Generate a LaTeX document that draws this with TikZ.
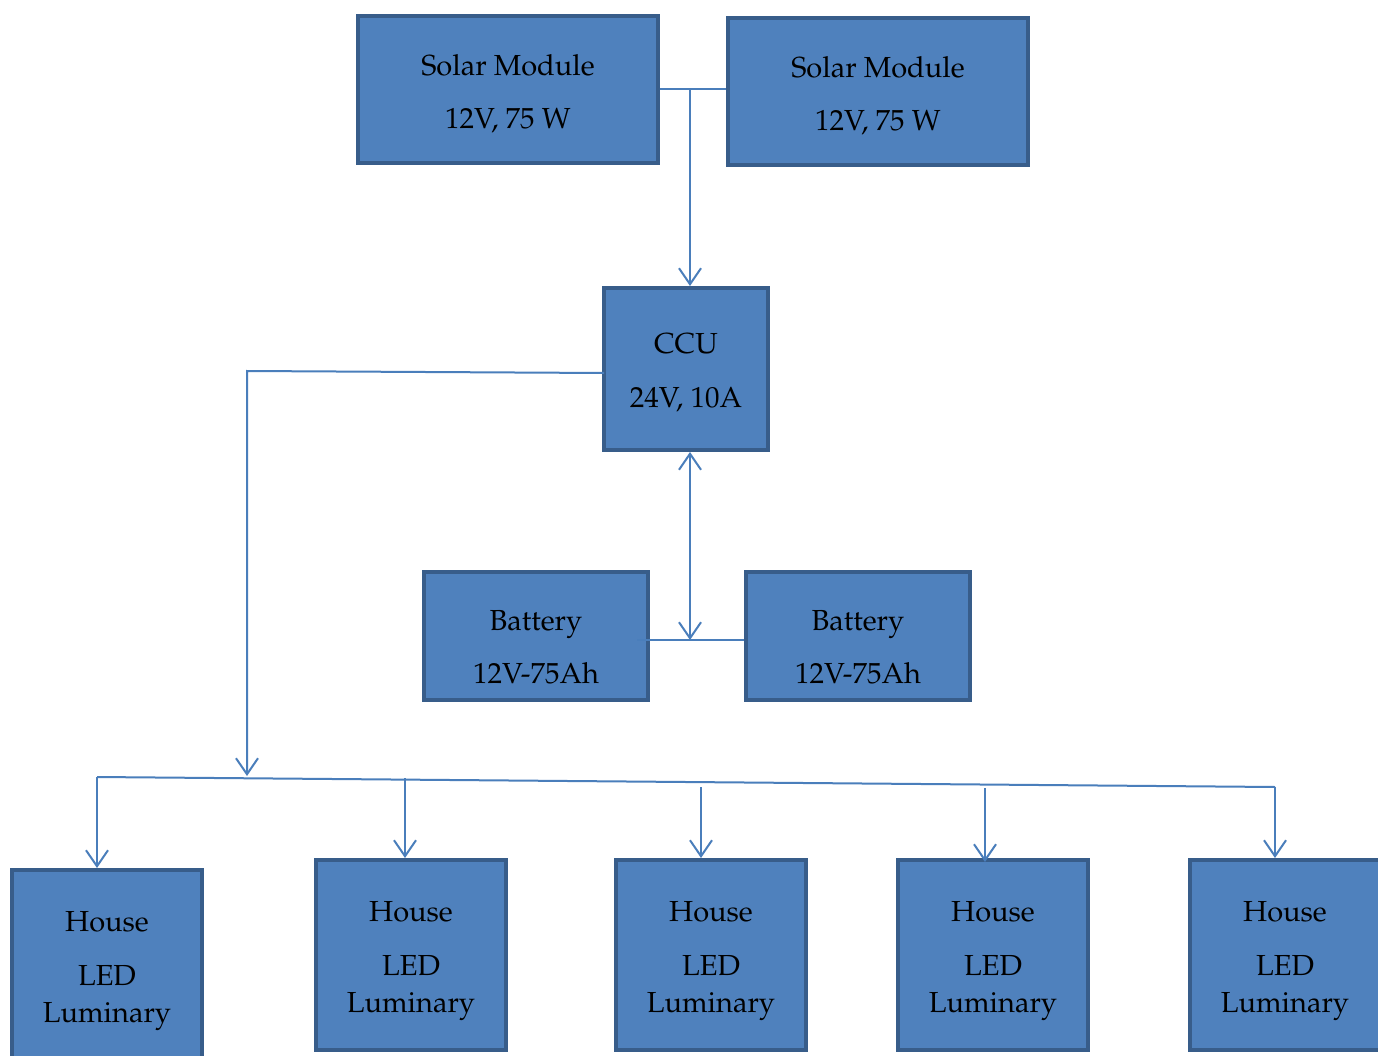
\documentclass[tikz,border=0pt]{standalone}
\usepackage[T1]{fontenc}
\renewcommand{\rmdefault}{ppl}
\usetikzlibrary{arrows.meta}
\definecolor{boxfill}{HTML}{4F81BD}
\definecolor{boxline}{HTML}{385D8A}
\definecolor{conn}{HTML}{4A7EBB}
\begin{document}
\begin{tikzpicture}[x=1pt,y=-1pt,
  blk/.style={draw=boxline,fill=boxfill,line width=4pt,rectangle,inner sep=0pt},
  lbl/.style={anchor=base,inner sep=0pt,font=\fontsize{29}{34}\selectfont},
  wire/.style={draw=conn,line width=2pt},
  arr/.style={wire,-{Straight Barb[length=16pt,width=22pt]}},
  arrb/.style={wire,{Straight Barb[length=16pt,width=22pt]}-{Straight Barb[length=16pt,width=22pt]}}]
\clip (0,0) rectangle (1378,1056);
\fill[white] (0,0) rectangle (1378,1056);
% boxes
\node[blk,minimum width=300pt,minimum height=147pt] (s1) at (508,89.5) {};
\node[blk,minimum width=300pt,minimum height=147pt] (s2) at (878,91.5) {};
\node[blk,minimum width=164pt,minimum height=162pt] (ccu) at (686,369) {};
\node[blk,minimum width=224pt,minimum height=128pt] (b1) at (536,636) {};
\node[blk,minimum width=224pt,minimum height=128pt] (b2) at (858,636) {};
\node[blk,minimum width=190pt,minimum height=190pt] (h1) at (107,965) {};
\node[blk,minimum width=190pt,minimum height=190pt] (h2) at (411,955) {};
\node[blk,minimum width=190pt,minimum height=190pt] (h3) at (711,955) {};
\node[blk,minimum width=190pt,minimum height=190pt] (h4) at (993,955) {};
\node[blk,minimum width=190pt,minimum height=190pt] (h5) at (1285,955) {};
% labels
\node[lbl] (s1a) at (508,76) {Solar Module};
\node[lbl] (s1b) at (508,129) {12V, 75 W};
\node[lbl] (s2a) at (878,78) {Solar Module};
\node[lbl] (s2b) at (878,131) {12V, 75 W};
\node[lbl] (ccua) at (686,353) {CCU};
\node[lbl] (ccub) at (686,407) {24V, 10A};
\node[lbl] (b1a) at (536,630) {Battery};
\node[lbl] (b1b) at (536,683) {12V-75Ah};
\node[lbl] (b2a) at (858,630) {Battery};
\node[lbl] (b2b) at (858,683) {12V-75Ah};
\foreach \n/\x/\y in {1/107/931,2/411/921,3/711/921,4/993/921,5/1285/921}{
  \node[lbl] (h\n a) at (\x,\y) {House};
  \node[lbl] (h\n b) at (\x,\y+54) {LED};
  \node[lbl] (h\n c) at (\x,\y+91) {Luminary};
}
% connectors
\coordinate (tj) at (690,89);
\draw[wire] (s1.east |- tj) -- (s2.west |- tj);
\draw[arr] (tj) -- (tj |- ccu.north);
\coordinate (bj) at (690,640);
\draw[arrb] (bj |- ccu.south) -- (bj);
\draw[wire] (637,640) -- (b2.west |- bj);
\coordinate (cl0) at (604,373);
\coordinate (cl) at (247,371);
\coordinate (ba) at (247,776);
\draw[arr] (cl0) -- (cl) -- (ba);
\coordinate (busL) at (97,777);
\coordinate (busR) at (1275,787);
\draw[wire] (busL) -- (busR);
\draw[arr] (busL) -- (busL |- h1.north);
\draw[arr] (busR) -- (busR |- h5.north);
\coordinate (d2) at (405,778);
\coordinate (d3) at (701,787);
\coordinate (d4) at (985,788);
\draw[arr] (d2) -- (d2 |- h2.north);
\draw[arr] (d3) -- (d3 |- h3.north);
\draw[arr] (d4) -- ([yshift=-4pt]d4 |- h4.north);
\end{tikzpicture}
\end{document}
